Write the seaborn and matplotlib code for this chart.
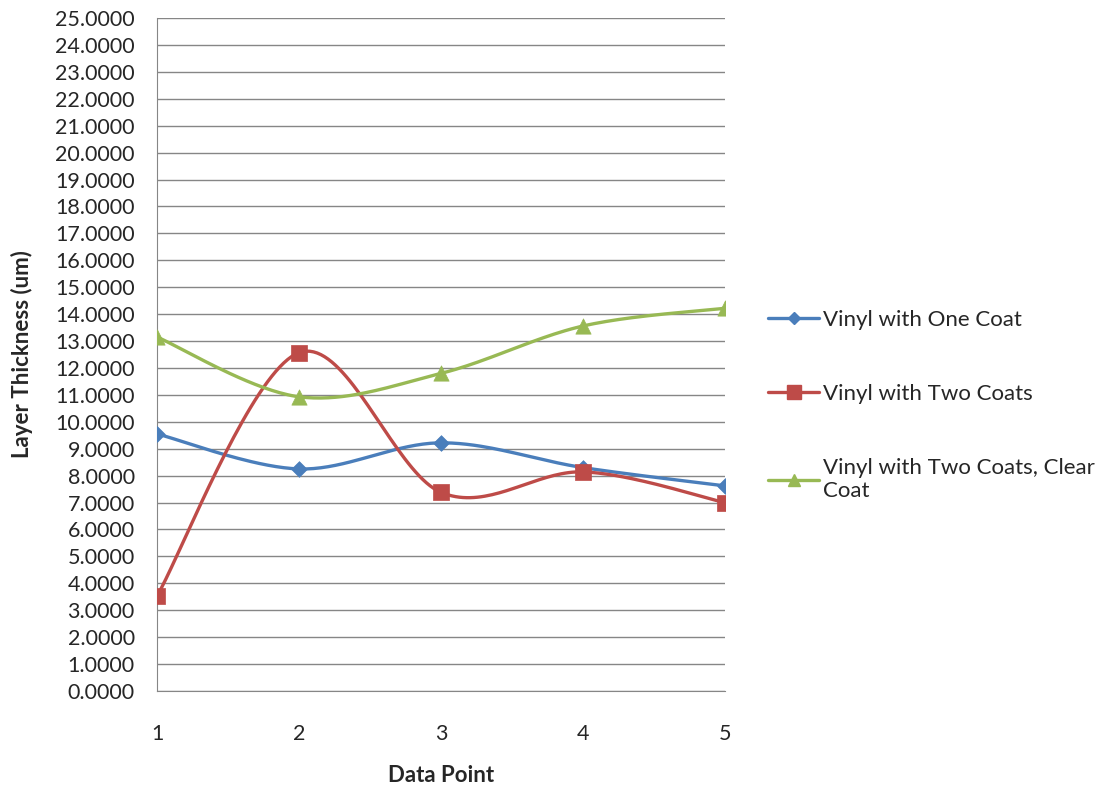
import numpy as np
import pandas as pd
import matplotlib
matplotlib.use("Agg")
import matplotlib.pyplot as plt
from matplotlib.lines import Line2D
from matplotlib.ticker import FormatStrFormatter
import seaborn as sns

data_point = [1, 2, 3, 4, 5]
one_coat = [9.55, 8.25, 9.22, 8.30, 7.62]
two_coats = [3.53, 12.57, 7.38, 8.14, 7.00]
clear_coat = [13.15, 10.93, 11.80, 13.56, 14.22]

series_names = ["Vinyl with One Coat", "Vinyl with Two Coats",
                "Vinyl with Two Coats, Clear\nCoat"]
colors = ["#4A7EBB", "#BE4B48", "#98B954"]
markers = ["D", "s", "^"]
msizes = [8, 12, 11]

sns.set_style("white")
plt.rcParams['font.family'] = ['Lato', 'DejaVu Sans']


def smooth(x, y, n=40):
    # bezier curve through the points, like the smoothed line in excel
    x = np.asarray(x, float)
    y = np.asarray(y, float)
    px, py = [], []
    for i in range(len(x) - 1):
        x0, y0 = (x[i - 1], y[i - 1]) if i > 0 else (x[i], y[i])
        x3, y3 = (x[i + 2], y[i + 2]) if i + 2 < len(x) else (x[i + 1], y[i + 1])
        c1x = x[i] + (x[i + 1] - x0) / 6
        c1y = y[i] + (y[i + 1] - y0) / 6
        c2x = x[i + 1] - (x3 - x[i]) / 6
        c2y = y[i + 1] - (y3 - y[i]) / 6
        t = np.linspace(0, 1, n)
        bx = (1 - t) ** 3 * x[i] + 3 * (1 - t) ** 2 * t * c1x + 3 * (1 - t) * t ** 2 * c2x + t ** 3 * x[i + 1]
        by = (1 - t) ** 3 * y[i] + 3 * (1 - t) ** 2 * t * c1y + 3 * (1 - t) * t ** 2 * c2y + t ** 3 * y[i + 1]
        px.extend(bx)
        py.extend(by)
    return np.array(px), np.array(py)


fig = plt.figure(figsize=(10.99, 7.94), dpi=100)
ax = fig.add_axes([0.1429, 0.1297, 0.5168, 0.8476])

handles = []
for vals, name, c, m, ms in zip([one_coat, two_coats, clear_coat], series_names, colors, markers, msizes):
    sx, sy = smooth(data_point, vals)
    sns.lineplot(x=sx, y=sy, ax=ax, color=c, linewidth=2.4, sort=False, estimator=None)
    df = pd.DataFrame({"x": data_point, "y": vals})
    sns.scatterplot(data=df, x="x", y="y", ax=ax, color=c, marker=m, s=ms ** 2,
                    edgecolor=c, linewidth=0.5, zorder=5)
    handles.append(Line2D([], [], color=c, linewidth=2.4, marker=m, markersize=ms * 0.8))

ax.set_xlim(1, 5)
ax.set_ylim(0, 25)
ax.set_xticks(data_point)
ax.set_yticks(np.arange(0, 26, 1))
ax.yaxis.set_major_formatter(FormatStrFormatter("%.4f"))
ax.grid(axis="y", color="#868686", linewidth=1)
ax.set_axisbelow(True)
for s in ["top", "right"]:
    ax.spines[s].set_visible(False)
ax.spines["left"].set_color("#868686")
ax.spines["bottom"].set_color("#868686")
ax.tick_params(axis="x", length=0, pad=24, labelsize=15.5, labelcolor="#262626")
ax.tick_params(axis="y", length=0, pad=16, labelsize=15.5, labelcolor="#262626")
ax.set_xlabel("Data Point", fontsize=16, fontweight="bold")
ax.set_ylabel("Layer Thickness (um)", fontsize=16, fontweight="bold")
ax.xaxis.set_label_coords(0.5, -0.11)
ax.yaxis.set_label_coords(-0.218, 0.5)

ax.legend(handles, series_names, loc="upper left", bbox_to_anchor=(1.076, 0.566),
          frameon=False, fontsize=16, labelspacing=2.43, handlelength=2.3,
          handletextpad=0.15, borderaxespad=0, borderpad=0)

fig.savefig("out.png", dpi=100)
